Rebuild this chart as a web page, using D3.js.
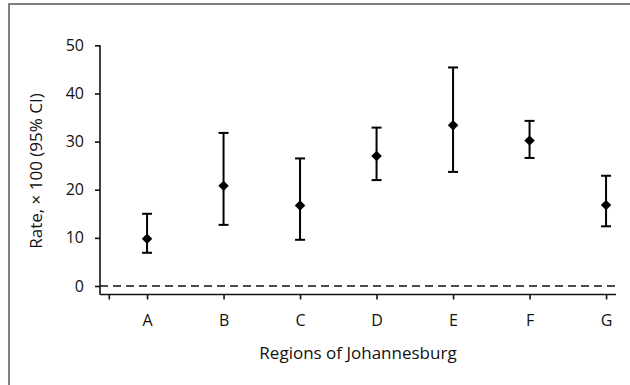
<!DOCTYPE html>
<html>
<head>
<meta charset="utf-8">
<script src="https://cdn.jsdelivr.net/npm/d3@7"></script>
<style>
  body { margin: 0; background: #fff; }
  svg { display: block; }
</style>
</head>
<body>
<script>
var regions = ['A', 'B', 'C', 'D', 'E', 'F', 'G'];
var rates = [9.8, 20.8, 16.7, 27.0, 33.4, 30.2, 16.8];
var lower = [6.9, 12.7, 9.6, 22.0, 23.7, 26.6, 12.4];
var upper = [15.0, 31.8, 26.5, 32.9, 45.4, 34.3, 22.9];
var yTicks = [0, 10, 20, 30, 40, 50];

var width = 630, height = 385;
var fontFamily = '"Open Sans", "Noto Sans", sans-serif';

var svg = d3.select('body')
    .append('svg')
    .attr('width', width)
    .attr('height', height);

// Frame (right and bottom edges run off the picture)
svg.append('rect')
    .attr('x', 9)
    .attr('y', 4)
    .attr('width', 640)
    .attr('height', 400)
    .attr('fill', 'none')
    .attr('stroke', '#555')
    .attr('stroke-width', 1.5);

// Scales: categories sit at 1..7
var x = d3.scaleLinear().domain([0.385, 7.13]).range([100, 616]);
var y = d3.scaleLinear().domain([0, 50]).range([286, 45.3]);

// Y axis
var yAxis = svg.append('g')
    .attr('transform', 'translate(100,0)')
    .call(d3.axisLeft(y).tickValues(yTicks).tickSize(5).tickPadding(11));
yAxis.select('.domain').attr('d', 'M0,' + y(50) + 'V294.5');

// X axis
var xTickVals = [0.5].concat(d3.range(1, regions.length + 1));
var xAxis = svg.append('g')
    .attr('transform', 'translate(0,294.5)')
    .call(d3.axisBottom(x).tickValues(xTickVals).tickSize(5).tickPadding(15)
        .tickFormat(function(d) { return d >= 1 ? regions[d - 1] : ''; }));
xAxis.select('.domain').attr('d', 'M' + x.range()[0] + ',0H' + x.range()[1]);

svg.selectAll('.tick text')
    .style('font-family', fontFamily)
    .style('font-size', '16px')
    .attr('fill', '#111');
svg.selectAll('.domain, .tick line')
    .attr('stroke', '#111')
    .attr('stroke-width', 1.6);

// Dashed reference line at zero
svg.append('line')
    .attr('x1', x.range()[0])
    .attr('x2', x.range()[1])
    .attr('y1', y(0))
    .attr('y2', y(0))
    .attr('stroke', '#111')
    .attr('stroke-width', 1.5)
    .attr('stroke-dasharray', '8,5');

// Error bars
var bars = svg.append('g');
for (var i = 0; i < regions.length; i++) {
    var cx = x(i + 1);
    bars.append('line')
        .attr('x1', cx).attr('x2', cx)
        .attr('y1', y(lower[i])).attr('y2', y(upper[i]))
        .attr('stroke', '#000').attr('stroke-width', 2);
    [lower[i], upper[i]].forEach(function(v) {
        bars.append('line')
            .attr('x1', cx - 5).attr('x2', cx + 5)
            .attr('y1', y(v)).attr('y2', y(v))
            .attr('stroke', '#000').attr('stroke-width', 2);
    });
    bars.append('path')
        .attr('d', d3.symbol().type(d3.symbolDiamond2).size(70)())
        .attr('transform', 'translate(' + cx + ',' + y(rates[i]) + ')')
        .attr('fill', '#000');
}

// Axis titles
svg.append('text')
    .attr('x', (x.range()[0] + x.range()[1]) / 2)
    .attr('y', 359)
    .attr('text-anchor', 'middle')
    .style('font-family', fontFamily)
    .style('font-size', '17px')
    .attr('fill', '#111')
    .text('Regions of Johannesburg');

svg.append('text')
    .attr('transform', 'translate(42,171) rotate(-90)')
    .attr('text-anchor', 'middle')
    .style('font-family', fontFamily)
    .style('font-size', '17px')
    .attr('fill', '#111')
    .text('Rate, \u00d7 100 (95% CI)');
</script>
</body>
</html>
